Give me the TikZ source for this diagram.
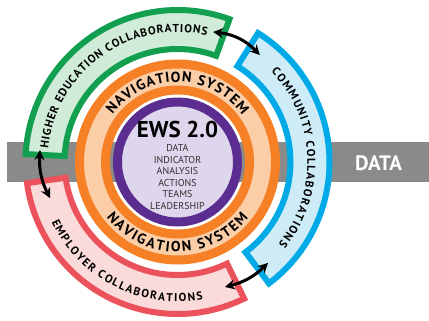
\documentclass[tikz,border=0pt]{standalone}
\usepackage{fontspec}
\setsansfont{PT Sans}
\usepackage{tikz}
\usetikzlibrary{arrows.meta,decorations.text}
\definecolor{bargray}{RGB}{138,138,138}
\definecolor{navorange}{RGB}{245,128,38}
\definecolor{navpeach}{RGB}{251,206,168}
\definecolor{ewspurple}{RGB}{92,45,145}
\definecolor{ewslilac}{RGB}{222,214,236}
\definecolor{ewstext}{RGB}{50,50,50}
\definecolor{edugreen}{RGB}{18,160,80}
\definecolor{edufill}{RGB}{208,236,216}
\definecolor{comblue}{RGB}{0,170,230}
\definecolor{comfill}{RGB}{206,236,248}
\definecolor{empred}{RGB}{236,82,92}
\definecolor{empfill}{RGB}{251,218,218}

\begin{document}
\begin{tikzpicture}[x=1bp, y=1bp, font=\sffamily]
      \tikzstyle{band}=[line width=6bp]
      \tikzstyle{ring}=[line width=9bp]
      \tikzstyle{link}=[line width=3bp,{Stealth[length=10bp,width=10bp]}-{Stealth[length=10bp,width=10bp]}]
      \tikzstyle{arcword}=[decorate,decoration={text along path,text align={fit to path}}]
      \useasboundingbox (-177.5,-159) rectangle (251.5,162);

      % data bar
      \fill[bargray] (-170.5,-20) rectangle (251.5,20);
      \node[text=white,font=\sffamily\bfseries\fontsize{21}{21}\selectfont] (data) at (201,-1.5) {DATA};

      % navigation system
      \fill[navpeach,even odd rule] (0,0) circle[radius=98] (0,0) circle[radius=72];
      \draw[ring,navorange] (0,0) circle[radius=98] (0,0) circle[radius=72];
      \path[arcword,decoration={text={|\sffamily\bfseries\fontsize{14.5}{14.5}\selectfont|NAVIGATION SYSTEM}}]
        (144:80) arc[start angle=144,end angle=36,radius=80];
      \path[arcword,decoration={text={|\sffamily\bfseries\fontsize{14.5}{14.5}\selectfont|NAVIGATION SYSTEM}}]
        (218:90) arc[start angle=218,end angle=322,radius=90];

      % ews core
      \draw[ring,ewspurple,fill=ewslilac] (0,0) circle[radius=60];
      \node[font=\sffamily\bfseries\fontsize{23}{23}\selectfont] (ews) at (0,33) {EWS 2.0};
      \node[text=ewstext,align=center,inner sep=0pt,font=\sffamily\fontsize{10}{11.7}\selectfont] (parts) at (0,-15)
        {DATA\\INDICATOR\\ANALYSIS\\ACTIONS\\TEAMS\\LEADERSHIP};

      % collaboration bands
      \draw[band,edugreen,fill=edufill] (70:152) arc[start angle=70,end angle=177,radius=152]
        -- (177:113) arc[start angle=177,end angle=70,radius=113] -- cycle;
      \draw[band,comblue,fill=comfill] (58:152) arc[start angle=58,end angle=-53,radius=152]
        -- (-53:113) arc[start angle=-53,end angle=58,radius=113] -- cycle;
      \draw[band,empred,fill=empfill] (188:152) arc[start angle=188,end angle=296,radius=152]
        -- (296:113) arc[start angle=296,end angle=188,radius=113] -- cycle;
      \path[arcword,decoration={text={|\sffamily\bfseries\fontsize{11.5}{11.5}\selectfont|HIGHER EDUCATION COLLABORATIONS}}]
        (174:130) arc[start angle=174,end angle=77,radius=130];
      \path[arcword,decoration={text={|\sffamily\bfseries\fontsize{11.5}{11.5}\selectfont|COMMUNITY COLLABORATIONS}}]
        (44:130) arc[start angle=44,end angle=-39,radius=130];
      \path[arcword,decoration={text={|\sffamily\bfseries\fontsize{11.5}{11.5}\selectfont|EMPLOYER COLLABORATIONS}}]
        (205.5:139.5) arc[start angle=205.5,end angle=280.5,radius=139.5];

      % arrows
      \coordinate (gtop) at (74.7:134.8);
      \coordinate (btop) at (52.4:135);
      \coordinate (glow) at (175:138);
      \coordinate (rtop) at (195.8:132.5);
      \coordinate (rend) at (-69.2:133.7);
      \coordinate (blow) at (-48.1:135.6);
      \draw[link] (gtop) to[bend left=20] (btop);
      \draw[link] (glow) to[bend right=15] (rtop);
      \draw[link] (rend) to[bend right=15] (blow);
    \end{tikzpicture}
\end{document}
